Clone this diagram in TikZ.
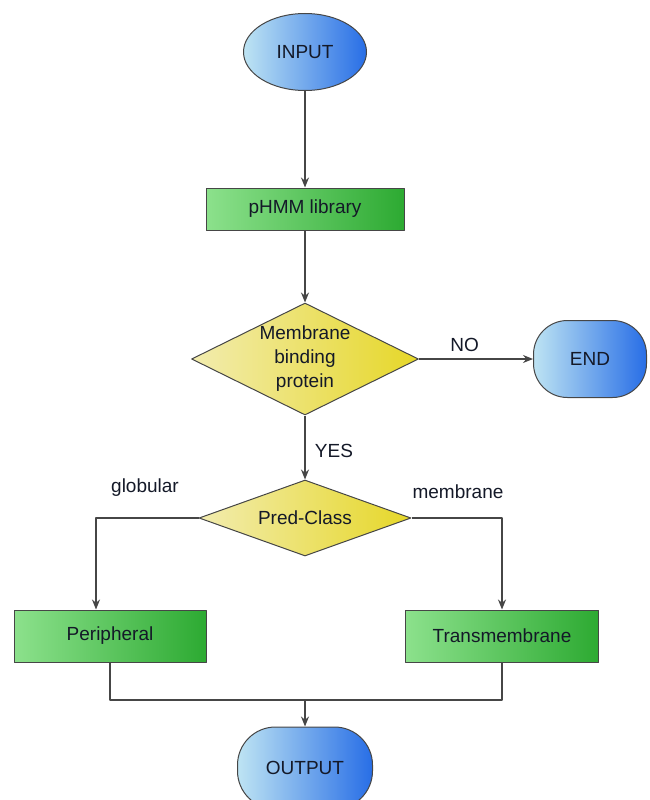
\documentclass[tikz,border=0pt]{standalone}
\usepackage{fontspec}
\setmainfont{Liberation Sans}
\usetikzlibrary{shapes.geometric,arrows.meta}
\definecolor{bluelite}{RGB}{190,228,243}
\definecolor{bluedark}{RGB}{40,110,230}
\definecolor{greenlite}{RGB}{140,225,140}
\definecolor{greendark}{RGB}{45,170,50}
\definecolor{yellowlite}{RGB}{242,236,175}
\definecolor{yellowdark}{RGB}{230,215,40}
\definecolor{edgegray}{RGB}{70,70,70}
\definecolor{txt}{RGB}{20,25,40}
\begin{document}
\begin{tikzpicture}[x=1pt,y=-1pt,>={Stealth[length=10pt,width=8pt]},line join=round,
	font=\fontsize{19}{24}\selectfont,text=txt,
	term/.style={draw=edgegray,line width=1pt,left color=bluelite,right color=bluedark},
	procbox/.style={draw=edgegray,line width=1pt,left color=greenlite,right color=greendark,inner sep=0pt},
	decide/.style={diamond,draw=edgegray,line width=1pt,left color=yellowlite,right color=yellowdark,inner sep=0pt,align=center},
	conn/.style={draw=edgegray,line width=1.3pt}]
	\useasboundingbox (0,0) rectangle (649,800);
	% nodes
	\node[term,ellipse,minimum width=123pt,minimum height=77pt] (input) at (305,52) {INPUT};
	\node[procbox,minimum width=198pt,minimum height=42pt] (phmm) at (305,209) {pHMM library};
	\node[decide,aspect=2,minimum width=227pt,minimum height=112pt] (mbp) at (305,359) {Membrane\\binding\\protein};
	\node[term,rounded corners=34pt,minimum width=113pt,minimum height=77pt] (end) at (590,359) {END};
	\node[decide,aspect=2.8,minimum width=212pt,minimum height=76pt] (pred) at (305,518) {Pred-Class};
	\node[procbox,minimum width=192pt,minimum height=52pt] (periph) at (110,636) {Peripheral};
	\node[procbox,minimum width=193pt,minimum height=52pt] (trans) at (502,636) {Transmembrane};
	\node[term,rounded corners=38pt,minimum width=135pt,minimum height=82pt] (output) at (305,768) {OUTPUT};
	\coordinate (join) at (305,700);
	% connectors
	\draw[conn,->] (input) -- (phmm);
	\draw[conn,->] (phmm) -- (mbp);
	\draw[conn,->] (mbp.east) -- node[above=3pt,pos=0.4]{NO} (end);
	\draw[conn,->] (mbp.south) -- node[right=6pt,pos=0.55]{YES} (pred);
	\draw[conn,->] (pred.west) -| ([xshift=-14pt]periph.north);
	\draw[conn,->] (pred.east) -| (trans.north);
	\draw[conn] (periph.south) |- (join) -| (trans.south);
	\draw[conn,->] (join) -- (output);
	\node (glob) at (145,488) {globular};
	\node (memb) at (458,492) {membrane};
\end{tikzpicture}
\end{document}
